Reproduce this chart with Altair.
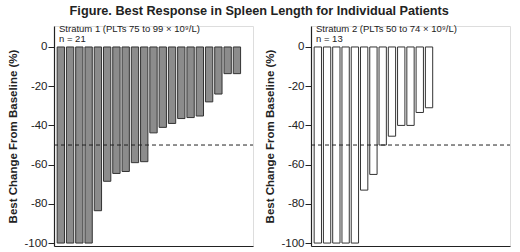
import altair as alt
import pandas as pd

stratum1 = [-100, -100, -100, -100, -83.5, -68.5, -64.5, -63.5, -59, -58.5,
            -43.8, -41, -39, -36.5, -36, -35.2, -28, -24, -13.6, -13.6, 0]
stratum2 = [-100, -100, -100, -100, -100, -73, -65, -50, -45.5, -40, -40, -33.4, -31]
slots = list(range(1, 22))
threshold = -50
yticks = [0, -20, -40, -60, -80, -100]

FONT = "Liberation Sans"
W, H = 199, 220

def panel(values, label1, label2, fill):
    df = pd.DataFrame({"patient": slots[:len(values)], "change": values})
    xs = alt.X("patient:O", scale=alt.Scale(domain=slots, paddingInner=0.21, paddingOuter=0.34),
               axis=alt.Axis(labels=False, ticks=False, title=None, domainColor="#222",
                             domainWidth=1.2))
    bars = alt.Chart(df).mark_bar(fill=fill, stroke="#333", strokeWidth=1).encode(
        x=xs,
        y=alt.Y("change:Q", scale=alt.Scale(domain=[-101.5, 10.7], nice=False, zero=False),
                axis=alt.Axis(values=yticks, title="Best Change From Baseline (%)",
                              titleFont=FONT, titleFontSize=11.5, titleFontWeight="bold",
                              titleColor="#222", titlePadding=5,
                              labelFont=FONT, labelFontSize=11.5, labelColor="#222",
                              labelExpr="'' + datum.value", labelPadding=1,
                              tickColor="#222", tickSize=6, domainColor="#222",
                              domainWidth=1.2, grid=False)),
        y2=alt.datum(0),
    ).transform_filter("datum.change < 0")
    rule = alt.Chart(pd.DataFrame({"t": [threshold]})).mark_rule(
        color="#222", strokeDash=[4, 3], strokeWidth=1
    ).encode(y="t:Q", x=alt.value(0), x2=alt.value(W))
    t1 = alt.Chart(pd.DataFrame({"l": [label1]})).mark_text(
        align="left", baseline="middle", font=FONT, fontSize=9.5, color="#222"
    ).encode(text="l:N", x=alt.value(5), y=alt.value(3))
    t2 = alt.Chart(pd.DataFrame({"l": [label2]})).mark_text(
        align="left", baseline="middle", font=FONT, fontSize=9.5, color="#222"
    ).encode(text="l:N", x=alt.value(5), y=alt.value(13))
    return alt.layer(bars, rule, t1, t2).properties(width=W, height=H)

left = panel(stratum1, "Stratum 1 (PLTs 75 to 99 × 10⁹/L)", "n = 21", "#8c8c8c")
right = panel(stratum2, "Stratum 2 (PLTs 50 to 74 × 10⁹/L)", "n = 13", "#ffffff")

chart = alt.hconcat(left, right, spacing=10).properties(
    title=alt.TitleParams("Figure. Best Response in Spleen Length for Individual Patients",
                          font=FONT, fontSize=12.7, fontWeight="bold", color="#222",
                          anchor="middle", offset=6),
    padding={"left": 7, "top": 4, "right": 5, "bottom": 5},
).configure_view(stroke=None).configure(background="white")

chart.save("out.html", embed_options={"renderer": "svg", "actions": False})
